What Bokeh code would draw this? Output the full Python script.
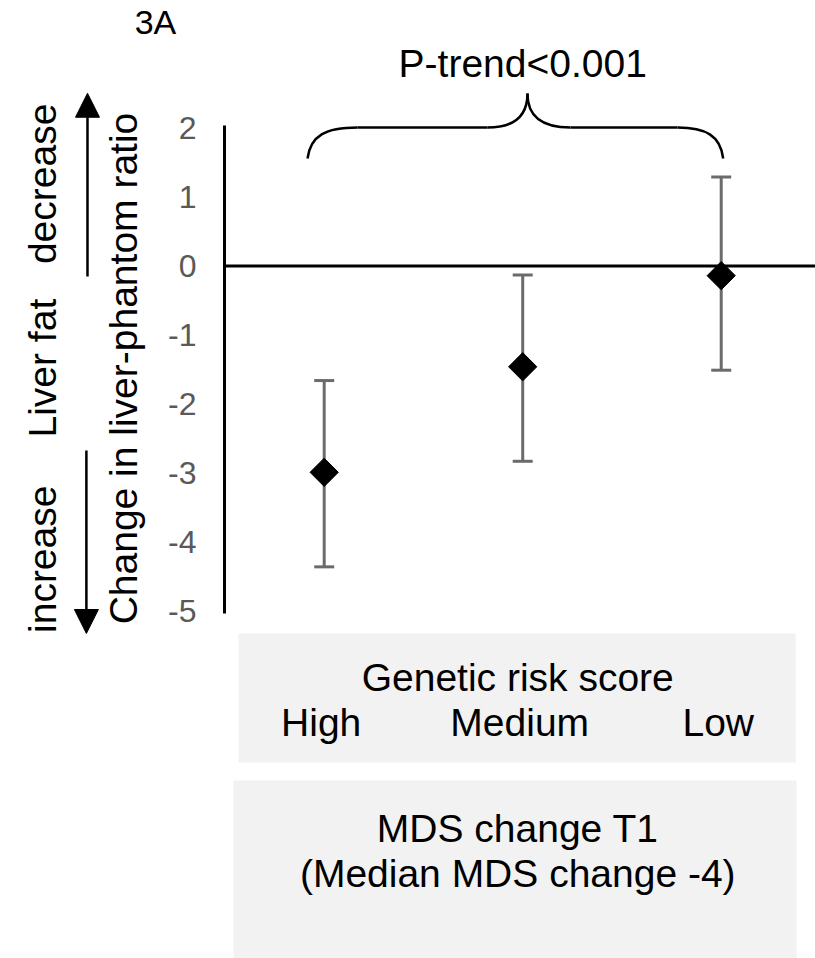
import math
from bokeh.plotting import figure
from bokeh.models import (ColumnDataSource, Whisker, TeeHead, Arrow, NormalHead,
                          FixedTicker, Range1d, LinearAxis)
from bokeh.core.properties import value
from bokeh.embed import file_html
from bokeh.resources import INLINE

# ---- data ----
groups = ["High", "Medium", "Low"]
group_pos = [1, 2, 3]
means = [-2.99, -1.46, -0.14]
lower_ci = [-4.36, -2.83, -1.51]
upper_ci = [-1.66, -0.13, 1.29]
y_ticks = [-5, -4, -3, -2, -1, 0, 1, 2]
x_title = "Genetic risk score"
panel_title = "3A"
p_trend = "P-trend<0.001"
y_title = "Change in liver-phantom ratio"
side_labels = ["decrease", "Liver fat", "increase"]
box2_lines = ["MDS change T1", "(Median MDS change -4)"]

FONT = "Liberation Sans"
AXIS_X = 0.4977          # where the y axis crosses the x scale

src = ColumnDataSource(dict(x=group_pos, g=groups, m=means, lo=lower_ci, up=upper_ci))

p = figure(width=815, height=958, output_backend="svg", toolbar_location=None,
           x_range=Range1d(-0.6307, 3.475), y_range=Range1d(-10.036, 3.848),
           x_axis_location=None, y_axis_location=None,
           min_border_left=0, min_border_right=0, min_border_top=0, min_border_bottom=0,
           outline_line_color=None, background_fill_color="white", border_fill_color="white")
p.grid.visible = False

ax = LinearAxis(fixed_location=AXIS_X)
ax.ticker = FixedTicker(ticks=y_ticks)
ax.major_label_overrides = {t: str(t) for t in y_ticks}
ax.bounds = (-5.03, 2.03)
ax.axis_line_color = "black"
ax.axis_line_width = 3
ax.major_tick_line_color = None
ax.minor_tick_line_color = None
ax.major_tick_out = 0
ax.major_tick_in = 0
ax.major_label_standoff = 28
ax.major_label_text_font = FONT
ax.major_label_text_font_size = "32px"
ax.major_label_text_color = "#595959"
p.add_layout(ax, "left")

# grey category panels
p.quad(left=[0.568, 0.543], right=[3.375, 3.380], top=[-5.326, -7.457], bottom=[-7.196, -10.036],
       fill_color="#f2f2f2", line_color=None, level="underlay")

# error bars
wh = Whisker(base="x", upper="up", lower="lo", source=src, dimension="height",
             line_color="#6b6b6b", line_width=3, level="underlay",
             upper_head=TeeHead(size=20, line_color="#6b6b6b", line_width=3),
             lower_head=TeeHead(size=20, line_color="#6b6b6b", line_width=3))
p.add_layout(wh)

# zero line, from the axis to the right edge
p.ray(x=[AXIS_X], y=[0], length=0, angle=0, line_color="black", line_width=3)

# points
p.scatter("x", "m", source=src, marker="square", size=20, angle=math.pi / 4,
          fill_color="black", line_color="black")

# brace
bx = dict(x0=[0.916, 1.823, 2.024, 2.780], y0=[1.558, 2.007, 2.5, 2.007],
          x1=[1.168, 2.024, 2.241, 3.010], y1=[2.007, 2.5, 2.007, 1.558],
          cx0=[0.931, 1.964, 2.024, 2.921], cy0=[1.891, 2.007, 2.181, 2.007],
          cx1=[1.007, 2.024, 2.090, 2.996], cy1=[2.007, 2.181, 2.007, 1.891])
p.bezier(source=ColumnDataSource(bx), x0="x0", y0="y0", x1="x1", y1="y1",
         cx0="cx0", cy0="cy0", cx1="cx1", cy1="cy1", line_color="black", line_width=2.5)
p.segment(x0=[1.168, 2.241], y0=[2.007, 2.007], x1=[1.823, 2.780], y1=[2.007, 2.007],
          line_color="black", line_width=2.5)

txt = dict(text_font=value(FONT), text_color="black", text_align="center", text_baseline="middle")
p.text(x=[2.0], y=[2.93], text=[p_trend], text_font_size="39px", **txt)
p.text(x=[0.150], y=[3.53], text=[panel_title], text_font_size="34px", **txt)

# category panel texts
p.text(x=[1.975], y=[-5.964], text=[x_title], text_font_size="39px", **txt)
p.text("x", y=-6.616, text="g", source=src, text_font_size="39px", x_offset=-3, **txt)
p.text(x=[1.975, 1.975], y=[-8.152, -8.804], text=box2_lines, text_font_size="39px", **txt)

# y titles (rotated)
p.text(x=[-0.011], y=[-1.486], text=[y_title], angle=math.pi / 2, text_font_size="39px", **txt)
p.text(x=[-0.419] * 3, y=[1.19, -1.48, -4.25], text=side_labels, angle=math.pi / 2,
       text_font_size="39px", **txt)

# direction arrows
for xs, y0, y1 in [(-0.1925, -0.153, 2.504), (-0.198, -2.674, -5.326)]:
    p.add_layout(Arrow(x_start=xs, y_start=y0, x_end=xs, y_end=y1,
                       line_color="black", line_width=2.5,
                       end=NormalHead(size=24, fill_color="black", line_color="black")))

open("out.html", "w").write(file_html(p, INLINE))
